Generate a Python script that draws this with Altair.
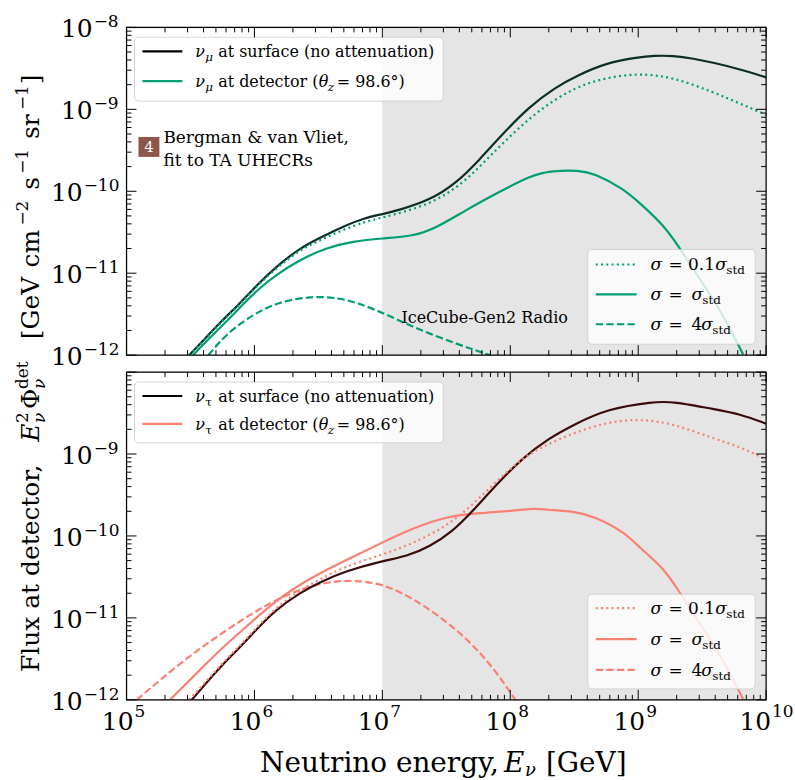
import altair as alt
import numpy as np
import pandas as pd

FONT = "DejaVu Serif"
W, H = 642, 329

GREEN = "#009E73"
SALMON = "#FA8072"
DARK_GREEN = "#0b2f24"
DARK_RED = "#3b0a0a"
SHADE = "#e5e5e5"
BADGE = "#8c564b"

# ---------------- nu_mu panel: log10(E/GeV) and log10(E^2 Phi) ----------------
mu_surface_logE = [5.49, 5.62, 5.75, 5.88, 6.01, 6.17, 6.35, 6.51, 6.69, 6.87, 7.0, 7.13,
                   7.37, 7.575, 7.757, 7.94, 8.146, 8.354, 8.52, 8.756, 9.0, 9.12, 9.276,
                   9.43, 9.587, 9.795, 10.0]
mu_surface_logF = [-12.0, -11.79, -11.57, -11.38, -11.16, -10.92, -10.70, -10.57, -10.43,
                   -10.32, -10.28, -10.23, -10.11, -9.905, -9.62, -9.30, -8.97, -8.73,
                   -8.59, -8.43, -8.365, -8.345, -8.345, -8.38, -8.43, -8.51, -8.61]

mu_low_logE = [5.49, 5.62, 5.75, 5.88, 6.01, 6.17, 6.35, 6.51, 6.69, 6.87, 6.98, 7.37,
               7.63, 7.81, 8.016, 8.224, 8.5, 8.756, 9.016, 9.276, 9.587, 9.795, 9.977, 10.0]
mu_low_logF = [-12.0, -11.80, -11.58, -11.39, -11.17, -10.94, -10.72, -10.60, -10.47,
               -10.37, -10.33, -10.17, -9.905, -9.62, -9.30, -9.01, -8.73, -8.61, -8.56,
               -8.61, -8.79, -8.93, -9.05, -9.07]

mu_std_logE = [5.52, 5.65, 5.78, 5.91, 6.04, 6.17, 6.35, 6.56, 6.77, 7.0, 7.24, 7.42,
               7.653, 7.887, 8.17, 8.33, 8.536, 8.653, 8.886, 9.016, 9.198, 9.328, 9.484,
               9.64, 9.82]
mu_std_logF = [-12.0, -11.79, -11.59, -11.38, -11.18, -11.02, -10.84, -10.69, -10.61,
               -10.575, -10.55, -10.45, -10.23, -10.03, -9.80, -9.75, -9.745, -9.78,
               -9.97, -10.15, -10.41, -10.70, -11.08, -11.44, -11.99]

mu_high_logE = [5.64, 5.78, 5.99, 6.19, 6.44, 6.66, 6.82, 7.0, 7.37, 7.84]
mu_high_logF = [-12.0, -11.74, -11.50, -11.35, -11.28, -11.30, -11.37, -11.48, -11.75, -12.0]

# ---------------- nu_tau panel ----------------
tau_surface_logE = [5.51, 5.62, 5.75, 5.88, 6.01, 6.17, 6.35, 6.51, 6.71, 7.0, 7.19, 7.37,
                    7.55, 7.705, 7.887, 8.094, 8.30, 8.5, 8.756, 9.12, 9.276, 9.587, 9.795,
                    10.0]
tau_surface_logF = [-12.0, -11.80, -11.57, -11.37, -11.15, -10.895, -10.70, -10.565, -10.43,
                    -10.305, -10.25, -10.13, -9.945, -9.70, -9.38, -9.05, -8.81, -8.64,
                    -8.45, -8.36, -8.36, -8.45, -8.51, -8.63]

tau_low_logE = [5.49, 5.62, 5.75, 5.88, 6.01, 6.17, 6.35, 6.51, 6.71, 7.0, 7.24, 7.50,
                7.705, 7.887, 8.094, 8.276, 8.5, 8.756, 9.016, 9.276, 9.587, 9.795, 9.977,
                10.0]
tau_low_logF = [-12.0, -11.78, -11.55, -11.35, -11.13, -10.87, -10.67, -10.53, -10.37,
                -10.23, -10.09, -9.885, -9.62, -9.34, -9.05, -8.89, -8.74, -8.61, -8.57,
                -8.63, -8.81, -8.91, -9.05, -9.06]

tau_std_logE = [5.34, 5.52, 5.73, 5.935, 6.17, 6.45, 6.71, 7.0, 7.24, 7.50, 7.757, 8.016,
                8.198, 8.276, 8.5, 8.653, 8.886, 9.016, 9.198, 9.328, 9.484, 9.64, 9.82]
tau_std_logF = [-12.0, -11.72, -11.39, -11.11, -10.78, -10.50, -10.30, -10.08, -9.905,
                -9.76, -9.72, -9.695, -9.66, -9.68, -9.70, -9.76, -9.945, -10.15, -10.39,
                -10.695, -11.08, -11.44, -11.99]

tau_high_logE = [5.08, 5.26, 5.52, 5.78, 6.04, 6.30, 6.56, 6.77, 7.0, 7.24, 7.50, 7.705,
                 7.887, 8.04]
tau_high_logF = [-12.0, -11.76, -11.43, -11.15, -10.885, -10.68, -10.56, -10.54, -10.58,
                 -10.76, -11.04, -11.32, -11.65, -12.0]

# ---------------- axes ----------------
major_E = [1e5, 1e6, 1e7, 1e8, 1e9, 1e10]
minor_E = [k * 10.0 ** d for d in range(5, 10) for k in range(2, 10)]
major_F = [1e-12, 1e-11, 1e-10, 1e-9, 1e-8]
minor_F = [k * 10.0 ** d for d in range(-12, -8) for k in range(2, 10)]
x_exponents = ["5", "6", "7", "8", "9", "10"]
y_exponents = {1e-8: "\u22128", 1e-9: "\u22129", 1e-10: "\u221210",
               1e-11: "\u221211", 1e-12: "\u221212"}
sensitive_band = [1e7, 1e10]

xscale = alt.Scale(type="log", domain=[1e5, 1e10], nice=False)
yscale = alt.Scale(type="log", domain=[1e-12, 1e-8], nice=False)
X = alt.X("E:Q", scale=xscale, axis=None)
Y = alt.Y("flux:Q", scale=yscale, axis=None)

ONE = pd.DataFrame({"k": [0]})
DOT = [2, 3.3]
DASH = [7.4, 3.2]


def curve(logE, logF):
    return pd.DataFrame({"E": np.power(10.0, logE), "flux": np.power(10.0, logF)})


def line(df, color, dash=None):
    kw = dict(color=color, strokeWidth=2.2, clip=True, interpolate="basis")
    if dash:
        kw["strokeDash"] = dash
    return alt.Chart(df).mark_line(**kw).encode(x=X, y=Y)


def txt(s, x, y, size=16, italic=False, align="left", angle=0, color="black",
        baseline="alphabetic"):
    kw = dict(text=s, font=FONT, fontSize=size, align=align, baseline=baseline, color=color)
    if italic:
        kw["fontStyle"] = "italic"
    if angle:
        kw["angle"] = angle
    return alt.Chart(ONE).mark_text(**kw).encode(x=alt.value(x), y=alt.value(y))


def seg(x1, x2, y, color, dash=None):
    kw = dict(color=color, strokeWidth=2.2)
    if dash:
        kw["strokeDash"] = dash
    return alt.Chart(ONE).mark_rule(**kw).encode(
        x=alt.value(x1), x2=alt.value(x2), y=alt.value(y))


def box(x1, x2, y1, y2):
    return alt.Chart(ONE).mark_rect(fill="white", fillOpacity=0.8, stroke="#cccccc",
                                    strokeOpacity=0.8, strokeWidth=1, cornerRadius=4).encode(
        x=alt.value(x1), x2=alt.value(x2), y=alt.value(y1), y2=alt.value(y2))


def shade():
    d = pd.DataFrame({"E": [sensitive_band[0]], "E2": [sensitive_band[1]]})
    return alt.Chart(d).mark_rect(color=SHADE).encode(
        x=X, x2="E2:Q", y=alt.value(0), y2=alt.value(H))


def ticks():
    out = []
    for vals, L in [(major_E, 10), (minor_E, 5)]:
        d = pd.DataFrame({"E": vals})
        out.append(alt.Chart(d).mark_rule(color="black", strokeWidth=1).encode(
            x=X, y=alt.value(H), y2=alt.value(H - L)))
        out.append(alt.Chart(d).mark_rule(color="black", strokeWidth=1).encode(
            x=X, y=alt.value(0), y2=alt.value(L)))
    for vals, L in [(major_F, 10), (minor_F, 5)]:
        d = pd.DataFrame({"flux": vals})
        out.append(alt.Chart(d).mark_rule(color="black", strokeWidth=1).encode(
            y=Y, x=alt.value(0), x2=alt.value(L)))
        out.append(alt.Chart(d).mark_rule(color="black", strokeWidth=1).encode(
            y=Y, x=alt.value(W), x2=alt.value(W - L)))
    out.append(alt.Chart(ONE).mark_rect(fillOpacity=0, stroke="black", strokeWidth=1.2).encode(
        x=alt.value(0), x2=alt.value(W), y=alt.value(0), y2=alt.value(H)))
    return out


def y_labels(values):
    out = []
    for group, right in [([v for v in values if v >= 1e-9], -34),
                         ([v for v in values if v < 1e-9], -44)]:
        if not group:
            continue
        d = pd.DataFrame({"flux": group, "base": ["10"] * len(group),
                          "exp": [y_exponents[v] for v in group]})
        out.append(alt.Chart(d).mark_text(font=FONT, fontSize=25, align="right",
                                          baseline="alphabetic", dy=10).encode(
            x=alt.value(right), y=Y, text="base:N"))
        out.append(alt.Chart(d).mark_text(font=FONT, fontSize=17, align="left",
                                          baseline="alphabetic", dy=0).encode(
            x=alt.value(right + 1), y=Y, text="exp:N"))
    return out


def x_labels():
    out = []
    for vals, exps, dx in [(major_E[:5], x_exponents[:5], 7), (major_E[5:], x_exponents[5:], 5)]:
        d = pd.DataFrame({"E": vals, "base": ["10"] * len(vals), "exp": exps})
        out.append(alt.Chart(d).mark_text(font=FONT, fontSize=25, align="right",
                                          baseline="alphabetic", dx=dx).encode(
            x=X, y=alt.value(359), text="base:N"))
        out.append(alt.Chart(d).mark_text(font=FONT, fontSize=17, align="left",
                                          baseline="alphabetic", dx=dx + 1).encode(
            x=X, y=alt.value(346), text="exp:N"))
    return out


def sigma_legend(color, rows):
    r1, r2, r3 = rows
    return [
        box(463, 631, 223, 318),
        seg(471, 512, r1, color, DOT),
        seg(471, 512, r2, color),
        seg(471, 512, r3, color, DASH),
        txt("\u03c3", 526, r1 + 6, 17, italic=True),
        txt("= 0.1", 544, r1 + 6, 17),
        txt("\u03c3", 591, r1 + 6, 17, italic=True),
        txt("std", 602, r1 + 10, 12),
        txt("\u03c3", 526, r2 + 6, 17, italic=True),
        txt("=", 544, r2 + 6, 17),
        txt("\u03c3", 567, r2 + 6, 17, italic=True),
        txt("std", 578, r2 + 10, 12),
        txt("\u03c3", 526, r3 + 6, 17, italic=True),
        txt("=", 544, r3 + 6, 17),
        txt("4", 567, r3 + 6, 17),
        txt("\u03c3", 577, r3 + 6, 17, italic=True),
        txt("std", 588, r3 + 10, 12),
    ]


def flavour_legend(color, flav, rows, bottom):
    r1, r2 = rows
    return [
        box(8, 318, 10, bottom),
        seg(16, 56, r1, "black"),
        seg(16, 56, r2, color),
        txt("\u03bd", 69, r1 + 6, 16, italic=True),
        txt(flav, 79, r1 + 10, 12, italic=(flav == "\u03bc")),
        txt("at surface (no attenuation)", 92, r1 + 6, 16),
        txt("\u03bd", 69, r2 + 6, 16, italic=True),
        txt(flav, 79, r2 + 10, 12, italic=(flav == "\u03bc")),
        txt("at detector (", 92, r2 + 6, 16),
        txt("\u03b8", 193, r2 + 6, 16, italic=True),
        txt("z", 202, r2 + 10, 12, italic=True),
        txt("= 98.6\u00b0)", 211, r2 + 6, 16),
    ]


# y-axis title, written bottom-to-top (baseline at x = -88 in panel coordinates)
def y_title():
    MB, SUP, SUB = -88, -99, -82
    pieces = [
        ("Flux at detector,", MB, 647, 25, False),
        ("E", MB, 416, 25, True),
        ("2", SUP, 397, 17, False),
        ("\u03bd", SUB, 397, 17, True),
        ("\u03a6", MB, 383, 25, False),
        ("det", SUP, 363, 17, False),
        ("\u03bd", SUB, 363, 17, True),
        ("[GeV", MB, 313, 25, False),
        ("cm", MB, 241, 25, False),
        ("\u22122", SUP, 199, 17, False),
        ("s", MB, 163, 25, False),
        ("\u22121", SUP, 147, 17, False),
        ("sr", MB, 112, 25, False),
        ("\u22121", SUP, 83, 17, False),
        ("]", MB, 57, 25, False),
    ]
    return [txt(s, x, y, size, italic=it, angle=270) for s, x, y, size, it in pieces]


def x_title():
    return [
        txt("Neutrino energy,", 134, 401, 28),
        txt("E", 379, 401, 28, italic=True),
        txt("\u03bd", 400, 405, 18, italic=True),
        txt("[GeV]", 421, 401, 28),
    ]


canvas = alt.Chart(ONE).mark_rect(opacity=0).encode(
    x=alt.value(-126), x2=alt.value(795 - 126), y=alt.value(-25), y2=alt.value(780 - 25))

top_layers = [
    canvas,
    shade(),
    line(curve(mu_high_logE, mu_high_logF), GREEN, DASH),
    line(curve(mu_std_logE, mu_std_logF), GREEN),
    line(curve(mu_surface_logE, mu_surface_logF), DARK_GREEN),
    line(curve(mu_low_logE, mu_low_logF), GREEN, DOT),
    *flavour_legend(GREEN, "\u03bc", (24, 54), 74),
    *sigma_legend(GREEN, (238, 268, 298)),
    alt.Chart(ONE).mark_rect(color=BADGE).encode(
        x=alt.value(12), x2=alt.value(33), y=alt.value(110), y2=alt.value(130)),
    txt("4", 22.5, 120, 15, align="center", color="white", baseline="middle"),
    txt("Bergman & van Vliet,", 37, 116, 17),
    txt("fit to TA UHECRs", 37, 139, 17),
    txt("IceCube-Gen2 Radio", 276, 297, 16),
    *ticks(),
    *y_labels(major_F),
    *y_title(),
]

bottom_layers = [
    shade(),
    line(curve(tau_high_logE, tau_high_logF), SALMON, DASH),
    line(curve(tau_std_logE, tau_std_logF), SALMON),
    line(curve(tau_surface_logE, tau_surface_logF), DARK_RED),
    line(curve(tau_low_logE, tau_low_logF), SALMON, DOT),
    *flavour_legend(SALMON, "\u03c4", (24, 52), 71),
    *sigma_legend(SALMON, (237, 268, 299)),
    *ticks(),
    *y_labels(major_F[:4]),
    *x_labels(),
    *x_title(),
]

top = alt.layer(*top_layers).properties(width=W, height=H)
bottom = alt.layer(*bottom_layers).properties(width=W, height=H)

chart = alt.vconcat(top, bottom, spacing=17, bounds="flush").properties(
    padding={"left": 0, "top": 0, "right": 0, "bottom": 0}
).configure_view(stroke=None).configure(background="white")

chart.save("out.html", embed_options={"renderer": "svg", "actions": False})
